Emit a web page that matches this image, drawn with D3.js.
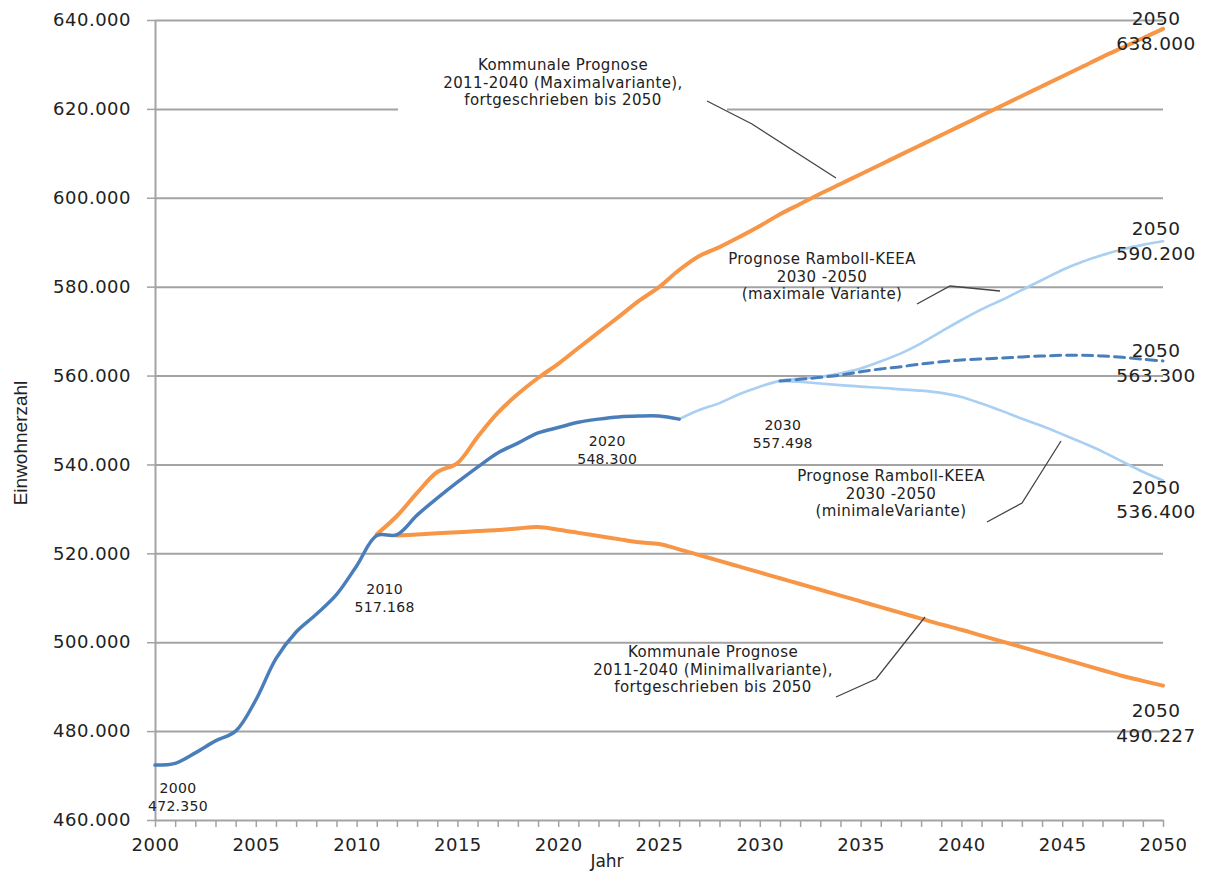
<!DOCTYPE html>
<html>
<head>
<meta charset="utf-8">
<script src="https://cdn.jsdelivr.net/npm/d3@7"></script>
<style>
body { margin: 0; background: #fff; }
svg text { font-family: "DejaVu Sans", Verdana, sans-serif; fill: #222; }
.grid line { stroke: #a3a3a3; stroke-width: 2; }
.grid .domain { display: none; }
.axis .domain { stroke: #a3a3a3; stroke-width: 2; }
.axis line { stroke: #a3a3a3; stroke-width: 1.5; }
.axis text { font-size: 18px; letter-spacing: 0.5px; }
.lbl { font-size: 14px; letter-spacing: 0.3px; }
.end-lbl { font-size: 18.5px; letter-spacing: 0.4px; }
.note { font-size: 15px; letter-spacing: 0.4px; }
.leader { fill: none; stroke: #444; stroke-width: 1.3; }
</style>
</head>
<body>
<div id="chart"></div>
<script>
// Einwohner, Ist-Entwicklung 2000-2026
const histYears  = [2000,2001,2002,2003,2004,2005,2006,2007,2008,2009,2010,2011,2012,2013,2014,2015,2016,2017,2018,2019,2020,2021,2022,2023,2024,2025,2026]
const histValues = [472350,472750,475100,477800,480000,487000,496300,502300,506300,510700,517168,524000,524200,528600,532400,536000,539400,542600,544800,547100,548300,549500,550200,550700,550900,550900,550200]

// Ramboll-KEEA Übergang 2026-2031 (gemeinsamer Verlauf)
const bridgeYears  = [2026,2027,2028,2029,2030,2031]
const bridgeValues = [550200,552250,553800,555850,557498,558800]

// Ramboll-KEEA Varianten 2031-2050
const rambYears = [2031,2032,2033,2034,2035,2036,2037,2038,2039,2040,2041,2042,2043,2044,2045,2046,2047,2048,2049,2050]
const rambMax   = [558800,559300,559700,560500,561600,563200,565000,567250,569900,572500,574900,577000,579250,581500,583750,585600,587100,588400,589400,590200]
const rambMid   = [558800,559150,559600,560100,560850,561500,562000,562600,563100,563500,563725,563950,564200,564400,564550,564550,564400,564100,563650,563300]
const rambMin   = [558800,558600,558200,557850,557500,557250,556900,556600,556100,555200,553700,552050,550300,548650,546800,544900,542900,540600,538350,536400]

// Kommunale Prognose Maximalvariante 2011-2050
const komMaxYears  = [2011,2012,2013,2014,2015,2016,2017,2018,2019,2020,2021,2022,2023,2024,2025,2026,2027,2028,2029,2030,2031,2032,2033,2034,2035,2036,2037,2038,2039,2040,2041,2042,2043,2044,2045,2046,2047,2048,2049,2050]
const komMaxValues = [524300,528400,533600,538300,540300,546200,551600,555850,559450,562650,566200,569700,573200,576800,579900,583750,586900,588900,591200,593650,596300,598600,600900,603100,605300,607500,609700,611900,614100,616300,618500,620700,622900,625100,627300,629500,631700,633800,635900,638000]

// Kommunale Prognose Minimalvariante 2012-2050
const komMinYears  = [2012,2013,2014,2015,2016,2017,2018,2019,2020,2021,2022,2023,2024,2025,2026,2027,2028,2029,2030,2031,2032,2033,2034,2035,2036,2037,2038,2039,2040,2041,2042,2043,2044,2045,2046,2047,2048,2049,2050]
const komMinValues = [524000,524250,524500,524750,525000,525250,525600,525900,525300,524600,523900,523200,522500,522100,520900,519600,518300,517000,515700,514400,513100,511800,510500,509200,507900,506600,505300,504000,502800,501500,500200,498900,497600,496300,495000,493700,492400,491300,490227]

const yTicks = [460000,480000,500000,520000,540000,560000,580000,600000,620000,640000]
const xLabelYears = [2000,2005,2010,2015,2020,2025,2030,2035,2040,2045,2050]

const W = 1210, H = 873
const margin = {top: 20, right: 47, bottom: 53, left: 155}

const de = d3.formatLocale({decimal: ',', thousands: '.', grouping: [3], currency: ['', '']})
const numFmt = de.format(',.0f')

const svg = d3.select('#chart').append('svg')
    .attr('width', W)
    .attr('height', H)

const x = d3.scaleLinear()
    .domain([2000, 2050])
    .range([margin.left, W - margin.right])

const y = d3.scaleLinear()
    .domain([460000, 640000])
    .range([H - margin.bottom, margin.top])

// gridlines
svg.append('g')
    .attr('class', 'grid')
    .attr('transform', `translate(${margin.left},0)`)
    .call(d3.axisLeft(y).tickValues(yTicks.slice(1)).tickSize(-(x(2050) - x(2000))).tickFormat(''))

// y axis
svg.append('g')
    .attr('class', 'axis y-axis')
    .attr('transform', `translate(${margin.left},0)`)
    .call(d3.axisLeft(y).tickValues(yTicks).tickSize(8).tickPadding(16).tickSizeOuter(0).tickFormat(numFmt))

// x axis
svg.append('g')
    .attr('class', 'axis x-axis')
    .attr('transform', `translate(0,${y(460000)})`)
    .call(d3.axisBottom(x)
        .tickValues(d3.range(2000, 2051))
        .tickSize(7).tickPadding(11).tickSizeOuter(0)
        .tickFormat(d => xLabelYears.includes(d) ? d : ''))

svg.append('text')
    .attr('x', 607)
    .attr('y', 867)
    .attr('text-anchor', 'middle')
    .style('font-size', '17px')
    .text('Jahr')

svg.append('text')
    .attr('transform', 'translate(27,443) rotate(-90)')
    .attr('text-anchor', 'middle')
    .style('font-family', '"Liberation Sans", Arial, sans-serif')
    .style('font-size', '19px')
    .text('Einwohnerzahl')

// white box behind upper note
svg.append('rect')
    .attr('x', 398).attr('y', 50)
    .attr('width', 329).attr('height', 64)
    .attr('fill', '#fff')

const line = d3.line()
    .curve(d3.curveCatmullRom.alpha(0.5))
    .x(d => x(d[0]))
    .y(d => y(d[1]))

const zip = (a, b) => a.map((d, i) => [d, b[i]])

const series = [
    {pts: zip(komMinYears, komMinValues), color: '#f79646', w: 4},
    {pts: zip(komMaxYears, komMaxValues), color: '#f79646', w: 4},
    {pts: zip(bridgeYears, bridgeValues).concat(zip(rambYears, rambMax).slice(1)), color: '#a9cff2', w: 2.6},
    {pts: zip(rambYears, rambMin), color: '#a9cff2', w: 2.6},
    {pts: zip(rambYears, rambMid), color: '#4a7ebb', w: 3, dash: '10,6'},
    {pts: zip(histYears, histValues), color: '#4a7ebb', w: 3.5}
]

svg.append('g')
  .selectAll('path')
  .data(series)
  .join('path')
    .attr('d', d => line(d.pts))
    .attr('fill', 'none')
    .attr('stroke', d => d.color)
    .attr('stroke-width', d => d.w)
    .attr('stroke-dasharray', d => d.dash || null)
    .attr('stroke-linecap', 'round')
    .attr('stroke-linejoin', 'round')

// point labels (year / value)
const pointLabels = [
    {year: 2000, value: histValues[0], dx: 23, dy1: 28, dy2: 46, cls: 'lbl'},
    {year: 2010, value: histValues[10], dx: 28, dy1: 28, dy2: 46, cls: 'lbl'},
    {year: 2020, value: histValues[20], dx: 49, dy1: 18, dy2: 36, cls: 'lbl'},
    {year: 2030, value: bridgeValues[4], dx: 23, dy1: 43, dy2: 61, cls: 'lbl'},
    {year: 2050, value: komMaxValues[komMaxValues.length - 1], dx: -7, dy1: -4, dy2: 21, cls: 'end-lbl'},
    {year: 2050, value: rambMax[rambMax.length - 1], dx: -7, dy1: -6, dy2: 19, cls: 'end-lbl'},
    {year: 2050, value: rambMid[rambMid.length - 1], dx: -7, dy1: -4, dy2: 21, cls: 'end-lbl'},
    {year: 2050, value: rambMin[rambMin.length - 1], dx: -7, dy1: 14, dy2: 38, cls: 'end-lbl'},
    {year: 2050, value: komMinValues[komMinValues.length - 1], dx: -7, dy1: 31, dy2: 56, cls: 'end-lbl'}
]

const pl = svg.append('g')
  .selectAll('g')
  .data(pointLabels)
  .join('g')
    .attr('transform', d => `translate(${x(d.year) + d.dx},${y(d.value)})`)

pl.append('text')
    .attr('class', d => d.cls)
    .attr('text-anchor', 'middle')
    .attr('y', d => d.dy1)
    .text(d => d.year)

pl.append('text')
    .attr('class', d => d.cls)
    .attr('text-anchor', 'middle')
    .attr('y', d => d.dy2)
    .text(d => numFmt(d.value))

// notes with leader lines
const notes = [
    {cx: 563, y0: 70, lines: ['Kommunale Prognose', '2011-2040 (Maximalvariante),', 'fortgeschrieben bis 2050'],
     leader: [[707, 101], [752, 124], [836, 178]]},
    {cx: 822, y0: 264, lines: ['Prognose Ramboll-KEEA', '2030 -2050', '(maximale Variante)'],
     leader: [[917, 304], [950, 286], [1000, 291]]},
    {cx: 891, y0: 481, lines: ['Prognose Ramboll-KEEA', '2030 -2050', '(minimaleVariante)'],
     leader: [[987, 522], [1022, 503], [1061, 441]]},
    {cx: 713, y0: 657, lines: ['Kommunale Prognose', '2011-2040 (Minimallvariante),', 'fortgeschrieben bis 2050'],
     leader: [[836, 697], [876, 679], [925, 617]]}
]

const ng = svg.append('g')
  .selectAll('g')
  .data(notes)
  .join('g')

ng.append('path')
    .attr('class', 'leader')
    .attr('d', d => d3.line()(d.leader))

ng.each(function(d) {
    d3.select(this).selectAll('text')
      .data(d.lines)
      .join('text')
        .attr('class', 'note')
        .attr('text-anchor', 'middle')
        .attr('x', d.cx)
        .attr('y', (t, i) => d.y0 + i * 17.5)
        .text(t => t)
})
</script>
</body>
</html>
